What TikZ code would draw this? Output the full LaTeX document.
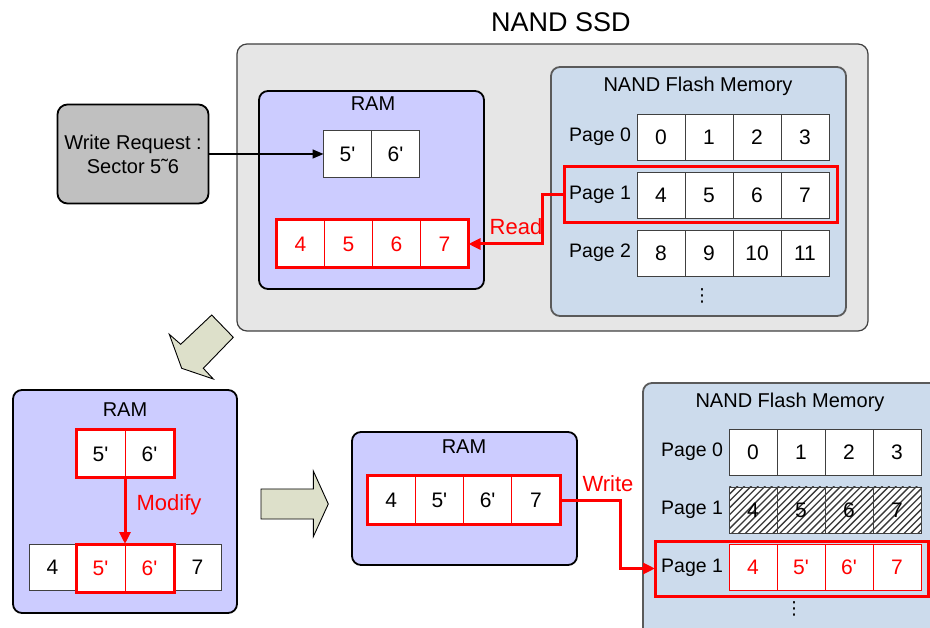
\documentclass[tikz,border=0pt]{standalone}
\usepackage{fontspec}
\setmainfont{Liberation Sans}
\newfontfamily\dotsfont{DejaVu Sans}
\usetikzlibrary{arrows.meta,fit}
\definecolor{ssdfill}{HTML}{E6E6E6}
\definecolor{ramfill}{HTML}{CCCCFF}
\definecolor{flashfill}{HTML}{CCDBEC}
\definecolor{reqfill}{HTML}{C0C0C0}
\definecolor{bigarrow}{HTML}{DDE0CA}
\definecolor{cellline}{HTML}{404040}
\definecolor{flashline}{HTML}{5A5A5A}
\definecolor{hatchline}{HTML}{3A3A3A}
\newcommand\cellprime{\textquotesingle}
\begin{document}
\begin{tikzpicture}[x=1pt,y=-1pt,
  every node/.style={inner sep=0pt, outer sep=0pt},
  lbl/.style={font=\fontsize{19.5}{22}\selectfont},
  title/.style={font=\fontsize{20}{22}\selectfont},
  cell/.style={draw=cellline, line width=0.9pt, fill=white, minimum width=48pt,
    minimum height=46pt, font=\fontsize{21}{24}\selectfont},
  redcell/.style={cell, draw=red, line width=0.8pt},
  redbox/.style={draw=red, line width=3pt},
  rambox/.style={draw=black, line width=1.8pt, fill=ramfill, rounded corners=9pt},
  flashbox/.style={draw=flashline, line width=1.8pt, fill=flashfill, rounded corners=9pt},
  redarrow/.style={draw=red, line width=3pt, -{Triangle[length=12pt,width=11pt]}},
  redlabel/.style={text=red, font=\fontsize{22}{24}\selectfont},
  blockarrow/.style={draw=black, line width=0.9pt, fill=bigarrow, line join=miter}
]
\clip (0,0) rectangle (930,628);
\fill[white] (0,0) rectangle (930,628);

% ---------- SSD enclosure ----------
\node[font=\fontsize{27}{30}\selectfont] (ssdtitle) at (561,22) {NAND SSD};
\node[draw=black!75, line width=1.2pt, fill=ssdfill, rounded corners=10pt,
  minimum width=631pt, minimum height=287pt] (ssd) at (552.5,187.5) {};

% write request
\node[draw=black, line width=1.8pt, fill=reqfill, rounded corners=10pt,
  minimum width=151pt, minimum height=99pt, align=center,
  font=\fontsize{20}{24}\selectfont] (req) at (133,154) {Write Request :\\Sector 5\char"02DC 6};

% RAM inside the SSD
\node[rambox, minimum width=225pt, minimum height=198pt] (ram1) at (371.5,190) {};
\node[title] (ram1t) at (373,104) {RAM};
\node[cell, minimum height=47pt] (n5) at (347.5,154) {5\cellprime};
\node[cell, minimum height=47pt] (n6) at (395.5,154) {6\cellprime};
\foreach \v [count=\i] in {4,5,6,7}
  \node[redcell, text=red, minimum height=48pt] (ra\i) at ({252.5+48*\i},244) {\v};
\node[redbox, fit=(ra1)(ra4)] (rarow) {};

% flash memory inside the SSD
\node[flashbox, minimum width=295pt, minimum height=249pt] (fl1) at (698.5,191.5) {};
\node[title] (fl1t) at (698,86) {NAND Flash Memory};
\foreach \r/\y in {0/137,1/195,2/253}
  \node[lbl, anchor=east] (pg\r) at (631,\y) {Page \r};
\foreach \v [count=\i] in {0,1,2,3}
  \node[cell] (fa\i) at ({613+48*\i},137) {\v};
\foreach \v [count=\i] in {4,5,6,7}
  \node[cell] (fb\i) at ({613+48*\i},195) {\v};
\foreach \v [count=\i] in {8,9,10,11}
  \node[cell] (fc\i) at ({613+48*\i},253) {\v};
\node[font=\dotsfont\fontsize{18}{20}\selectfont] (fldots) at (702,296) {⋮};
\node[redbox, minimum width=273pt, minimum height=56pt] (sel) at (700.5,195) {};

% connectors in the SSD
\draw[line width=1.5pt, -{Triangle[length=11pt,width=9pt]}] (req.east) -- (n5.west);
\draw[redarrow] (sel.west) -- ++(-22,0) |- (rarow.east);
\node[redlabel] (readl) at (516,227) {Read};

% ---------- step arrows ----------
\draw[blockarrow] (211.7,315) -- (233.3,337.3) -- (203.3,368.3) -- (213.3,379)
  -- (181.7,368.3) -- (169.3,334.3) -- (180.7,344.3) -- cycle;
\draw[blockarrow] (261,489) -- (313.3,489) -- (313.3,471) -- (328.3,504)
  -- (313.3,536.7) -- (313.3,519) -- (261,519) -- cycle;

% ---------- modify in RAM ----------
\node[rambox, minimum width=224pt, minimum height=223pt] (ram2) at (125,501.5) {};
\node[title] (ram2t) at (125,410) {RAM};
\node[redcell, minimum width=49pt, minimum height=48pt] (m5) at (100.5,454) {5\cellprime};
\node[redcell, minimum width=49pt, minimum height=48pt] (m6) at (149.5,454) {6\cellprime};
\node[redbox, fit=(m5)(m6)] (mtop) {};
\node[cell, minimum width=47pt] (b4) at (52.5,567.5) {4};
\node[cell, minimum width=47pt] (b7) at (197.5,567.5) {7};
\node[redcell, text=red, minimum width=49pt, minimum height=48pt] (b5) at (100.5,568) {5\cellprime};
\node[redcell, text=red, minimum width=49pt, minimum height=48pt] (b6) at (149.5,568) {6\cellprime};
\node[redbox, fit=(b5)(b6)] (mbot) {};
\draw[redarrow] (mtop.south) -- (mbot.north);
\node[redlabel] (modl) at (169,505) {Modify};

% ---------- write back ----------
\node[rambox, minimum width=225pt, minimum height=133pt] (ram3) at (464.5,498.5) {};
\node[title] (ram3t) at (464,447) {RAM};
\foreach \v [count=\i] in {4,5\cellprime,6\cellprime,7}
  \node[redcell, minimum width=48.25pt, minimum height=48pt] (w\i) at ({342.9+48.25*\i},500) {\v};
\node[redbox, fit=(w1)(w4)] (wrow) {};

\node[flashbox, minimum width=300pt, minimum height=270pt] (fl2) at (793,518) {};
\node[title] (fl2t) at (790,402) {NAND Flash Memory};
\node[lbl, anchor=east] (q0) at (723,452) {Page 0};
\node[lbl, anchor=east] (q1) at (723,510) {Page 1};
\node[lbl, anchor=east] (q2) at (723,567.5) {Page 1};
\foreach \v [count=\i] in {0,1,2,3}
  \node[cell] (ga\i) at ({705+48*\i},452) {\v};
% invalidated page: hatched cells
\foreach \v [count=\i] in {4,5,6,7}
  \node[cell] (gb\i) at ({705+48*\i},510) {};
\begin{scope}
  \clip (gb1.north west) rectangle (gb4.south east);
  \foreach \k in {-8,...,30}
    \draw[hatchline, line width=1.3pt] ({729+6.9*\k},536) -- ++(52,-52);
\end{scope}
\foreach \v [count=\i] in {4,5,6,7}
  \node[draw=cellline, line width=0.9pt, minimum width=48pt, minimum height=46pt,
    font=\fontsize{21}{24}\selectfont] (gt\i) at (gb\i) {\v};
\foreach \v [count=\i] in {4,5\cellprime,6\cellprime,7}
  \node[redcell, text=red] (gc\i) at ({705+48*\i},567.5) {\v};
\node[redbox, minimum width=273pt, minimum height=55pt] (newpg) at (791.5,568.5) {};
\node[font=\dotsfont\fontsize{18}{20}\selectfont] (fl2dots) at (794,609) {⋮};

\draw[redarrow] (wrow.east) -- ++(60,0) |- (newpg.west);
\node[redlabel] (writel) at (608,484) {Write};
\end{tikzpicture}
\end{document}
